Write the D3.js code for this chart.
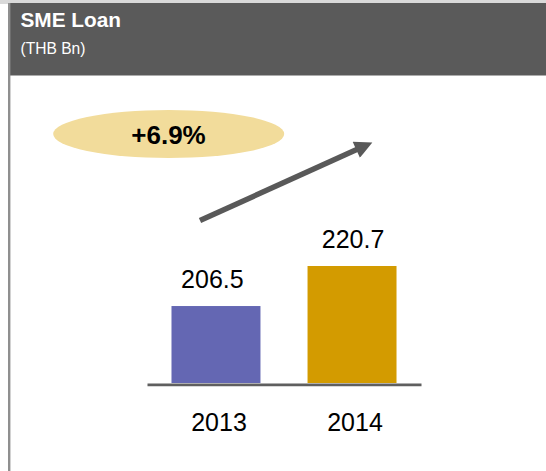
<!DOCTYPE html>
<html>
<head>
<meta charset="utf-8">
<script src="https://cdn.jsdelivr.net/npm/d3@7"></script>
<style>
  html, body { margin: 0; padding: 0; background: #ffffff; }
  svg { display: block; font-family: "Liberation Sans", Arial, sans-serif; }
</style>
</head>
<body>
<svg id="chart" width="546" height="471"></svg>
<script>
// SME loan balance, THB billion
const years = ["2013", "2014"];
const loans = [206.5, 220.7];
const barColors = ["#6467b3", "#d39b00"];
const title = "SME Loan";
const unit = "(THB Bn)";

const W = 546, H = 471;
const svg = d3.select("#chart");

// Panel frame and header band
svg.append("rect").attr("x", 0).attr("y", 0).attr("width", W).attr("height", 4).attr("fill", "#d9d9d9");
svg.append("rect").attr("x", 10).attr("y", 3).attr("width", W - 10).attr("height", 72.5).attr("fill", "#5a5a5a");
svg.append("rect").attr("x", 8).attr("y", 3).attr("width", 2.4).attr("height", H - 3).attr("fill", "#8f8f8f");

svg.append("text").attr("x", 20.5).attr("y", 26.7)
  .attr("font-size", 20.8).attr("font-weight", "bold").attr("fill", "#ffffff").text(title);
svg.append("text").attr("x", 20.5).attr("y", 53.5)
  .attr("font-size", 15.6).attr("fill", "#ffffff").text(unit);

// Scales: value axis does not start at zero
const baseY = 383;
const x = d3.scaleBand().domain(years).range([147, 421]).paddingInner(0.346).paddingOuter(0.18);
const y = d3.scaleLinear().domain([179.2, 220.7]).range([baseY, 266]);

const data = years.map((yr, i) => ({ year: yr, value: loans[i], color: barColors[i] }));

// Bars
svg.append("g").selectAll("rect").data(data).join("rect")
  .attr("x", d => x(d.year))
  .attr("y", d => y(d.value))
  .attr("width", x.bandwidth())
  .attr("height", d => y.range()[0] - y(d.value))
  .attr("fill", d => d.color);

// Value labels
svg.append("g").selectAll("text").data(data).join("text")
  .attr("x", d => x(d.year) + x.bandwidth() / 2)
  .attr("y", d => y(d.value) - 18.5)
  .attr("dx", (d, i) => (i === 0 ? -3.6 : 1))
  .attr("text-anchor", "middle")
  .attr("font-size", 25)
  .attr("fill", "#000000")
  .text(d => d.value.toFixed(1));

// Category axis
const axis = svg.append("g").attr("transform", `translate(0,${baseY + 1.3})`)
  .call(d3.axisBottom(x).tickSize(0).tickPadding(0));
axis.select(".domain").attr("stroke", "#5f5f5f").attr("stroke-width", 2.7);
axis.selectAll(".tick text")
  .attr("font-family", "\"Liberation Sans\", Arial, sans-serif")
  .attr("font-size", 25)
  .attr("fill", "#000000")
  .attr("dy", null)
  .attr("y", 46.4)
  .attr("dx", 3);

// Growth badge
const growth = (loans[1] / loans[0] - 1) * 100;
svg.append("ellipse").attr("cx", 168.7).attr("cy", 134).attr("rx", 115.5).attr("ry", 24)
  .attr("fill", "#f2dc9b");
svg.append("text").attr("x", 168.5).attr("y", 144)
  .attr("text-anchor", "middle").attr("font-size", 26).attr("font-weight", "bold")
  .attr("fill", "#000000").text("+" + growth.toFixed(1) + "%");

// Trend arrow
const defs = svg.append("defs");
defs.append("marker").attr("id", "head")
  .attr("viewBox", "0 0 10 10").attr("refX", 2).attr("refY", 5)
  .attr("markerWidth", 3.4).attr("markerHeight", 3.2).attr("orient", "auto")
  .attr("markerUnits", "strokeWidth")
  .append("path").attr("d", "M0,0 L10,5 L0,10 Z").attr("fill", "#595959");
svg.append("line")
  .attr("x1", 200).attr("y1", 220.5).attr("x2", 359.5).attr("y2", 148.3)
  .attr("stroke", "#595959").attr("stroke-width", 5.5)
  .attr("marker-end", "url(#head)");
</script>
</body>
</html>
